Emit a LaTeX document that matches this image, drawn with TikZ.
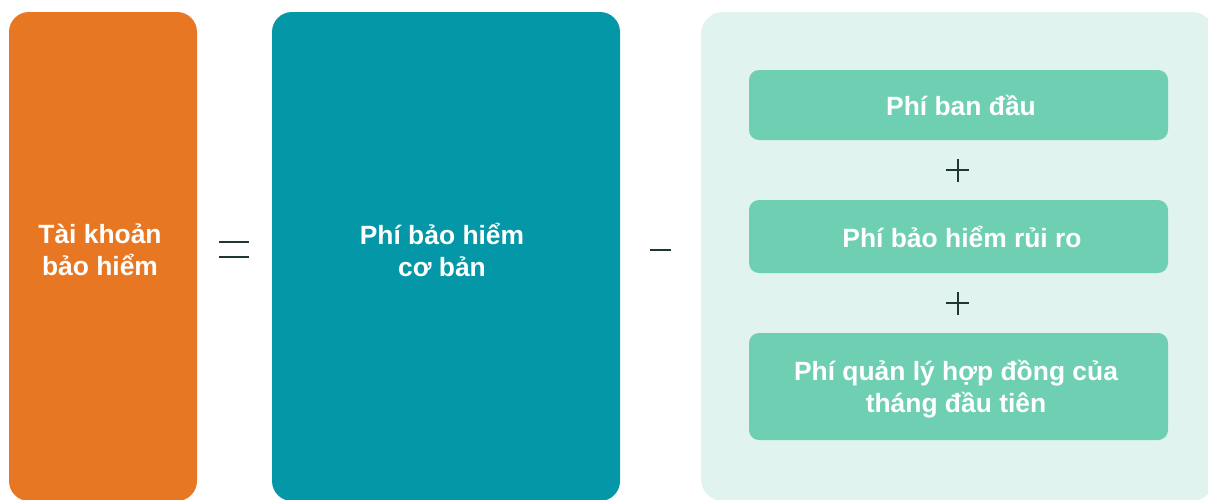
\documentclass[tikz,border=0pt]{standalone}
\usepackage{fontspec}
\setmainfont{Liberation Sans}
\definecolor{cOrange}{HTML}{E77722}
\definecolor{cTeal}{HTML}{0397A7}
\definecolor{cLight}{HTML}{E0F3EF}
\definecolor{cGreen}{HTML}{6FCFB3}
\definecolor{cDark}{HTML}{1F3733}
\tikzset{
  boxtxt/.style={text=white, font=\fontsize{26.4}{32}\selectfont\bfseries, align=center},
  opline/.style={draw=cDark, line width=2pt},
}
\begin{document}
\begin{tikzpicture}[x=1pt,y=-1pt]
\useasboundingbox (0,0) rectangle (1208,499);
\clip (0,0) rectangle (1208,499);
\fill[cOrange, rounded corners=20pt] (9,12) rectangle (197,501);
\fill[cTeal, rounded corners=20pt] (272,12) rectangle (620,501);
\fill[cLight, rounded corners=22pt] (701,12) rectangle (1214,501);
\fill[cGreen, rounded corners=10pt] (749,70) rectangle (1168,140);
\fill[cGreen, rounded corners=10pt] (749,200) rectangle (1168,273);
\fill[cGreen, rounded corners=10pt] (749,333) rectangle (1168,440);
\node[boxtxt] (acct) at (100,250) {Tài khoản\\bảo hiểm};
\node[boxtxt] (basic) at (442,250) {Phí bảo hiểm\\cơ bản};
\node[boxtxt] (init) at (961,105) {Phí ban đầu};
\node[boxtxt] (risk) at (962,237) {Phí bảo hiểm rủi ro};
\node[boxtxt] (mgmt) at (956,389) {Phí quản lý hợp đồng của\\tháng đầu tiên};
% equals
\draw[opline] (219,242) -- (249,242);
\draw[opline] (219,257) -- (249,257);
% minus
\draw[opline] (650,250) -- (671,250);
% plus signs
\draw[opline] (946,170) -- (969,170);
\draw[opline] (957.5,159) -- (957.5,182);
\draw[opline] (946,303) -- (969,303);
\draw[opline] (957.5,292) -- (957.5,315);
\end{tikzpicture}
\end{document}
